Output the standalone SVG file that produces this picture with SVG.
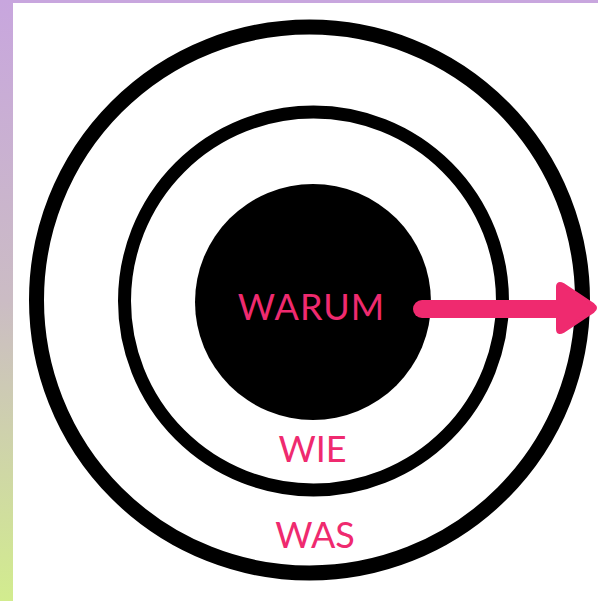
<svg xmlns="http://www.w3.org/2000/svg" width="598" height="601" viewBox="0 0 598 601">
<defs>
<linearGradient id="side" x1="0" y1="0" x2="0" y2="1">
<stop offset="0" stop-color="#c8a6de"/>
<stop offset="0.5" stop-color="#cbbcc4"/>
<stop offset="1" stop-color="#d2ec8e"/>
</linearGradient>
<style>
.ring{fill:none;stroke:#000}
.lbl{font-family:Lato,"Open Sans",sans-serif;font-size:36px;fill:#ef2a6f;text-anchor:middle}
</style>
</defs>
<rect width="598" height="601" fill="#fff"/>
<rect x="0" y="0" width="598" height="3" fill="#c8a6de"/>
<rect x="0" y="0" width="13" height="601" fill="url(#side)"/>
<g id="was">
<circle class="ring" cx="309.5" cy="300" r="273" stroke-width="15"/>
<text class="lbl" x="315" y="548">WAS</text>
</g>
<g id="wie">
<circle class="ring" cx="313.5" cy="301" r="189" stroke-width="13"/>
<text class="lbl" x="312.5" y="462">WIE</text>
</g>
<g id="warum">
<circle cx="313" cy="302" r="118" fill="#000"/>
<text class="lbl" x="311.5" y="320" letter-spacing="1">WARUM</text>
</g>
<g id="connectors">
<line x1="422" y1="309" x2="560" y2="309" stroke="#ef2a6f" stroke-width="18" stroke-linecap="round"/>
<path d="M558 287 Q558 282 563 285 L593 305 Q597 308 593 311 L563 331 Q558 334 558 329 Z" fill="#ef2a6f" stroke="#ef2a6f" stroke-width="4" stroke-linejoin="round"/>
</g>
</svg>
